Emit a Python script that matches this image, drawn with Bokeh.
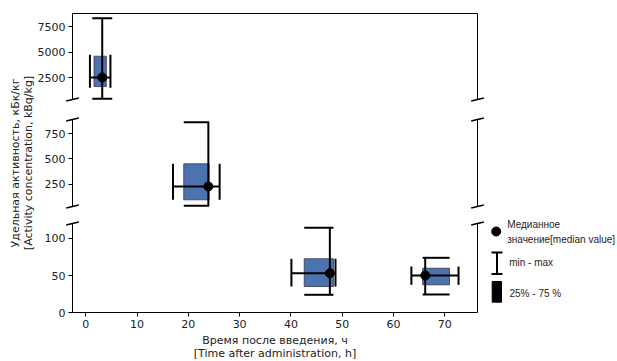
from bokeh.plotting import figure
from bokeh.models import Range1d, LinearAxis, FixedTicker, ColumnDataSource
from bokeh.core.properties import value
from bokeh.embed import file_html
from bokeh.resources import INLINE

# ---------------- data ----------------
group_panel = ["top", "mid", "bottom", "bottom"]
x_med = [3.2, 23.9, 47.6, 66.2]
x_q25 = [1.6, 19.1, 42.6, 65.7]
x_q75 = [4.0, 24.05, 48.3, 70.95]
x_min = [0.8, 17.0, 40.1, 63.5]
x_max = [4.8, 26.1, 48.7, 72.7]
y_med = [2520, 228, 53.2, 50.1]
y_q25 = [1630, 96, 35.3, 37.6]
y_q75 = [4620, 452, 72.6, 59.9]
y_min = [420, 38, 24.2, 24.6]
y_max = [8370, 863, 114.2, 73.9]
vcap_x0 = [1.25, 19.1, 42.6, 65.7]
vcap_x1 = [5.15, 24.05, 48.3, 70.95]
hcap_y0 = [1500, 96, 35.3, 37.6]
hcap_y1 = [4760, 452, 72.6, 62.2]

panel_names = ["top", "mid", "bottom"]
panel_lo = [350, 30, 0]
panel_hi = [8800, 890, 120]
panel_ticks = [[2500, 5000, 7500], [250, 500, 750], [0, 50, 100]]
x_lim = (-2.6, 76.4)
x_ticks = [0, 10, 20, 30, 40, 50, 60, 70]

x_label = "Время после введения, ч\n[Time after administration, h]"
y_label = "Удельная активность, кБк/кг\n[Activity concentration, kBq/kg]"
legend_labels = ["Медианное", "значение[median value]", "min - max", "25% - 75 %"]

# ---------------- layout (frame = whole canvas, pixel based) ----------------
W, H = 617, 361
spine_px = (72, 477)                                   # x of left/right spines
panel_px = [(13.3, 99.0), (119.0, 206.0), (223.0, 312.3)]  # (top, bottom) of each panel

ux = (x_lim[1] - x_lim[0]) / (spine_px[1] - spine_px[0])
x_start = x_lim[0] - spine_px[0] * ux
x_end = x_start + W * ux

def yrange(lo, hi, pt, pb):
    u = (hi - lo) / (pb - pt)
    return Range1d(lo - (H - pb) * u, hi + pt * u)

ranges = {n: yrange(lo, hi, pt, pb) for n, lo, hi, (pt, pb)
          in zip(panel_names, panel_lo, panel_hi, panel_px)}

p = figure(width=W, height=H, x_range=Range1d(x_start, x_end), y_range=ranges["bottom"],
           output_backend="svg", toolbar_location=None,
           x_axis_type=None, y_axis_type=None,
           min_border_left=0, min_border_right=0, min_border_top=0, min_border_bottom=0)
p.outline_line_color = None
p.extra_y_ranges = {"top": ranges["top"], "mid": ranges["mid"], "ly": Range1d(H, 0)}
p.extra_x_ranges = {"lx": Range1d(0, W)}
rname = {"top": "top", "mid": "mid", "bottom": "default"}

FONT = "DejaVu Sans"

def style_axis(ax):
    ax.axis_line_color = "black"
    ax.axis_line_width = 1
    ax.major_tick_line_color = "black"
    ax.major_tick_out = 4
    ax.major_tick_in = 0
    ax.minor_tick_line_color = None
    ax.major_label_text_font = FONT
    ax.major_label_text_font_size = "11px"
    ax.major_label_text_color = "#222222"
    ax.major_label_standoff = 3
    ax.axis_label_text_font = FONT
    ax.axis_label_text_font_size = "11px"
    ax.axis_label_text_font_style = "normal"
    ax.axis_label_text_color = "#222222"
    ax.axis_label_text_line_height = 1.0

def spine_only(ax):
    style_axis(ax)
    ax.major_tick_line_color = None
    ax.major_label_text_font_size = "0px"

for n, lo, hi, ticks in zip(panel_names, panel_lo, panel_hi, panel_ticks):
    ax = LinearAxis(y_range_name=rname[n], fixed_location=x_lim[0], bounds=(lo, hi),
                    ticker=FixedTicker(ticks=ticks))
    style_axis(ax)
    if n == "mid":
        ax.axis_label = y_label
        ax.axis_label_standoff = 7
    p.add_layout(ax, "left")
    rax = LinearAxis(y_range_name=rname[n], fixed_location=x_lim[1], bounds=(lo, hi),
                     ticker=FixedTicker(ticks=[]))
    spine_only(rax)
    p.add_layout(rax, "right")

# top spine
tax = LinearAxis(y_range_name="top", fixed_location=panel_hi[0], bounds=x_lim,
                 ticker=FixedTicker(ticks=[]))
spine_only(tax)
p.add_layout(tax, "above")

# x axis
xax = LinearAxis(fixed_location=panel_lo[2], bounds=x_lim, ticker=FixedTicker(ticks=x_ticks))
style_axis(xax)
xax.axis_label = x_label
xax.axis_label_standoff = 3
p.add_layout(xax, "below")

# ---------------- data glyphs ----------------
BOX_COLOR = "#4C72B0"
for n in panel_names:
    idx = [i for i, g in enumerate(group_panel) if g == n]
    src = ColumnDataSource(dict(
        x_med=[x_med[i] for i in idx], x_q25=[x_q25[i] for i in idx], x_q75=[x_q75[i] for i in idx],
        x_min=[x_min[i] for i in idx], x_max=[x_max[i] for i in idx],
        y_med=[y_med[i] for i in idx], y_q25=[y_q25[i] for i in idx], y_q75=[y_q75[i] for i in idx],
        y_min=[y_min[i] for i in idx], y_max=[y_max[i] for i in idx],
        vcap_x0=[vcap_x0[i] for i in idx], vcap_x1=[vcap_x1[i] for i in idx],
        hcap_y0=[hcap_y0[i] for i in idx], hcap_y1=[hcap_y1[i] for i in idx]))
    r = rname[n]
    p.quad(left="x_q25", right="x_q75", bottom="y_q25", top="y_q75", source=src,
           y_range_name=r, fill_color=BOX_COLOR, line_color="#333845", line_width=0.8)
    kw = dict(source=src, y_range_name=r, line_color="black", line_width=2)
    p.segment(x0="x_med", y0="y_min", x1="x_med", y1="y_max", **kw)
    p.segment(x0="vcap_x0", y0="y_min", x1="vcap_x1", y1="y_min", **kw)
    p.segment(x0="vcap_x0", y0="y_max", x1="vcap_x1", y1="y_max", **kw)
    p.segment(x0="x_min", y0="y_med", x1="x_max", y1="y_med", **kw)
    p.segment(x0="x_min", y0="hcap_y0", x1="x_min", y1="hcap_y1", **kw)
    p.segment(x0="x_max", y0="hcap_y0", x1="x_max", y1="hcap_y1", **kw)
    p.scatter(x="x_med", y="y_med", source=src, y_range_name=r, size=9,
              fill_color="black", line_color="black")

# break marks
for i, n in enumerate(panel_names):
    ends = []
    if i > 0:
        ends.append(panel_hi[i])
    if i < len(panel_names) - 1:
        ends.append(panel_lo[i])
    bx = [x for _ in ends for x in x_lim]
    by = [y for y in ends for _ in x_lim]
    p.scatter(x=bx, y=by, marker="dash", size=13, angle=0.23, line_color="black",
              line_width=1.6, y_range_name=rname[n])

# ---------------- legend (drawn in canvas pixels) ----------------
lk = dict(x_range_name="lx", y_range_name="ly")
p.scatter(x=[495.7], y=[231], size=9, fill_color="black", line_color="black", **lk)
p.segment(x0=[496.5, 491, 491], y0=[252, 252, 273.5], x1=[496.5, 502, 502],
          y1=[273.5, 252, 273.5], line_color="black", line_width=2, **lk)
p.quad(left=[491.7], right=[501], top=[281], bottom=[301.7], fill_color="black",
       line_color="black", **lk)
p.text(x=[506.7, 506.7, 508.7, 509], y=[224, 238.5, 262, 292.7], text=legend_labels,
       text_baseline="middle", text_align="left", text_font=value("Liberation Sans"),
       text_font_size="10px", text_color="#2a2222", **lk)

open("out.html", "w").write(file_html(p, INLINE))
